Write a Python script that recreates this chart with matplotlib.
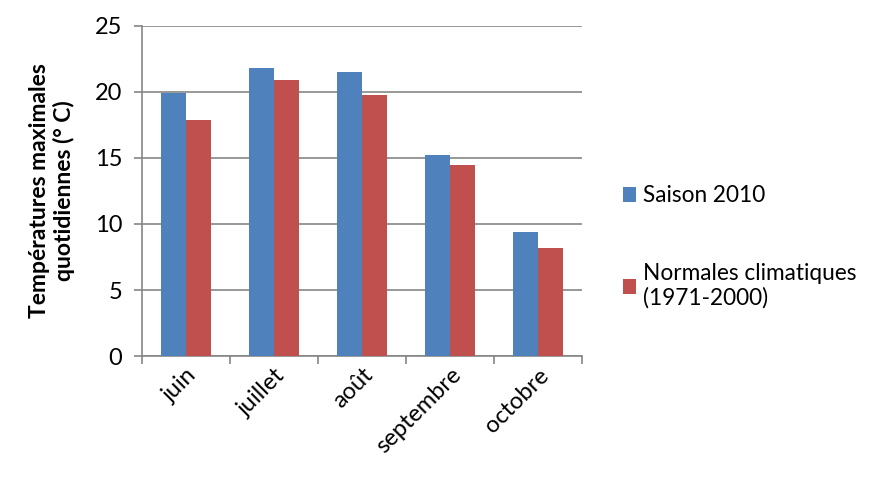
import numpy as np
import matplotlib.pyplot as plt

plt.rcParams['font.family'] = ['Lato', 'DejaVu Sans']

# Monthly max temperatures
months = ['juin', 'juillet', 'août', 'septembre', 'octobre']
saison_2010 = [19.9, 21.8, 21.5, 15.2, 9.4]
normales = [17.9, 20.9, 19.8, 14.5, 8.2]

blue = '#4f81bd'
red = '#c0504d'
axis_gray = '#868686'

fig = plt.figure(figsize=(8.81, 4.78), dpi=100)
ax = fig.add_axes([0.161, 0.255, 0.50, 0.691])

x = np.arange(len(months))
w = 1 / 3.5
ax.bar(x - w / 2, saison_2010, w, color=blue, label='Saison 2010', zorder=3)
ax.bar(x + w / 2, normales, w, color=red, label='Normales climatiques\n(1971-2000)', zorder=3)

ax.set_xlim(-0.5, len(months) - 0.5)
ax.set_ylim(0, 25)
ax.set_yticks(range(0, 26, 5))
ax.yaxis.grid(True, color=axis_gray, linewidth=1.2, zorder=0)

# category boundaries get the tick marks, labels sit at centres
ax.set_xticks(np.arange(-0.5, len(months)), minor=False)
ax.set_xticklabels([])
ax.set_xticks(x, minor=True)
ax.set_xticklabels(months, minor=True, rotation=45, ha='right', rotation_mode='anchor',
                   fontsize=17)
ax.tick_params(axis='x', which='minor', length=0, pad=6)
ax.tick_params(axis='x', which='major', length=6, color=axis_gray, width=1.2)
ax.tick_params(axis='y', length=6, color=axis_gray, width=1.2, labelsize=17, pad=8)

for side in ['top', 'right']:
    ax.spines[side].set_visible(False)
for side in ['left', 'bottom']:
    ax.spines[side].set_color(axis_gray)
    ax.spines[side].set_linewidth(1.2)

ax.set_ylabel('Températures maximales\nquotidiennes (° C)', fontsize=16.5,
              fontweight='bold', labelpad=14)

ax.legend(loc='center left', bbox_to_anchor=(1.045, 0.33), frameon=False,
          fontsize=16.3, handlelength=0.6, handleheight=0.6, handletextpad=0.3,
          labelspacing=2.5)

fig.savefig('out.png', dpi=100)
